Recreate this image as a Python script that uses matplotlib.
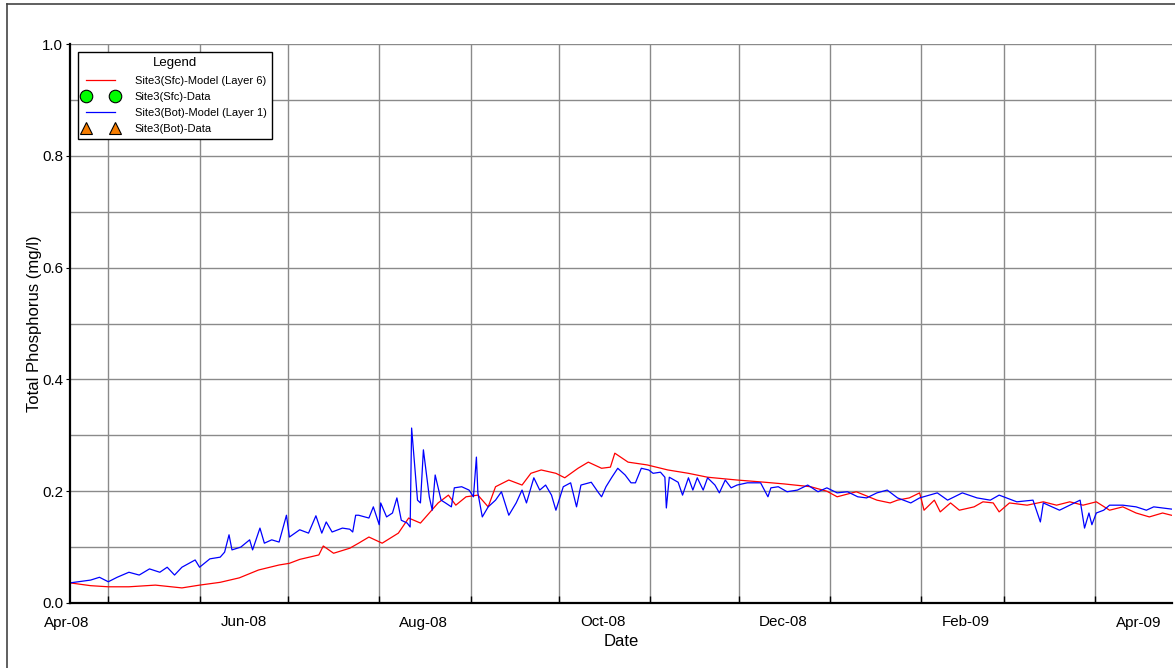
import datetime as dt
import matplotlib
matplotlib.use("Agg")
import matplotlib.pyplot as plt
import matplotlib.dates as mdates
from matplotlib.lines import Line2D

plt.rcParams['font.family'] = ['Liberation Sans', 'DejaVu Sans']

# days counted from 2008-04-03
base = dt.datetime(2008, 4, 3)

sfc_days = [15, 22, 28, 35, 44, 53, 59, 66, 72.5, 79, 86, 89.5, 93, 99.5, 101, 104.5,
            110, 113, 116.5, 121, 126.5, 130, 134, 137, 140, 143.5, 146, 149.5, 153.5,
            157, 159.5, 164, 168.5, 171.5, 175, 180, 183, 187.5, 191, 195.5, 198.5, 200,
            204.5, 211, 218, 225, 231.5, 241.5, 251, 257.5, 266.5, 272, 275.5, 282, 289,
            293.5, 296, 300, 303.5, 305, 308.5, 310.5, 314, 317, 322, 325, 328.5, 330.5,
            334, 340, 345.5, 350, 354.5, 359, 363.5, 368, 372.5, 377, 381.5, 386, 389]
sfc_tp = [0.036, 0.031, 0.029, 0.029, 0.032, 0.027, 0.032, 0.037, 0.045, 0.059, 0.068,
          0.071, 0.078, 0.086, 0.102, 0.089, 0.098, 0.107, 0.118, 0.107, 0.125, 0.152,
          0.143, 0.161, 0.179, 0.193, 0.175, 0.190, 0.193, 0.172, 0.208, 0.220, 0.211,
          0.232, 0.238, 0.232, 0.224, 0.241, 0.252, 0.241, 0.243, 0.268, 0.252, 0.247,
          0.238, 0.232, 0.225, 0.220, 0.216, 0.213, 0.208, 0.200, 0.190, 0.199, 0.184,
          0.179, 0.184, 0.188, 0.197, 0.166, 0.184, 0.163, 0.179, 0.166, 0.172, 0.181,
          0.179, 0.163, 0.179, 0.175, 0.181, 0.175, 0.181, 0.175, 0.181, 0.166, 0.172,
          0.161, 0.154, 0.161, 0.157]

bot_days = [15, 22, 25, 28, 31, 35, 38.5, 42, 45.5, 48, 50.5, 53, 57.5, 59, 62.5, 66,
            67.5, 69, 70, 73, 76, 77, 79.5, 81, 83.5, 86, 88.5, 89.5, 93, 96, 98.5, 100.5,
            102, 104, 107.5, 110, 111, 112, 113, 116.5, 118, 120, 120.5, 122.5, 124.5,
            126, 127.5, 129.5, 130.5, 131, 133, 134, 135, 137, 138, 139, 141, 142.5,
            144.5, 145.5, 148, 150.5, 152, 153, 153.5, 155, 157, 159.5, 161.5, 164, 166.5,
            168.5, 170, 172.5, 174.5, 176.5, 178.5, 180, 182.5, 185, 187, 188.5, 192,
            194.5, 195.5, 197, 199, 201, 203.5, 205.5, 207, 209, 211.5, 213, 215.5, 217,
            217.5, 218.5, 221.5, 223, 225, 226.5, 228, 230, 231.5, 234, 235.5, 237.5,
            239.5, 241.5, 245, 249.5, 252, 253, 255.5, 258.5, 262, 265.5, 269, 272, 275.5,
            279, 282.5, 285.5, 289, 292.5, 296, 300.5, 303.5, 309.5, 313, 318, 323,
            327.5, 330.5, 336.5, 342, 344.5, 345.5, 351, 354.5, 358, 359.5, 361, 362,
            363.5, 366, 368, 372.5, 377, 380.5, 383, 386, 389]
bot_tp = [0.036, 0.041, 0.046, 0.038, 0.046, 0.055, 0.050, 0.061, 0.055, 0.064, 0.050,
          0.064, 0.077, 0.064, 0.079, 0.082, 0.091, 0.122, 0.095, 0.100, 0.113, 0.095,
          0.134, 0.107, 0.113, 0.109, 0.157, 0.118, 0.131, 0.125, 0.156, 0.125, 0.145,
          0.127, 0.134, 0.132, 0.127, 0.157, 0.157, 0.152, 0.172, 0.140, 0.179, 0.154,
          0.161, 0.188, 0.148, 0.143, 0.136, 0.313, 0.184, 0.179, 0.274, 0.190, 0.166,
          0.229, 0.184, 0.179, 0.172, 0.206, 0.208, 0.202, 0.190, 0.261, 0.197, 0.154,
          0.172, 0.184, 0.199, 0.157, 0.179, 0.202, 0.179, 0.224, 0.202, 0.211, 0.193,
          0.166, 0.208, 0.215, 0.172, 0.211, 0.216, 0.197, 0.190, 0.208, 0.225, 0.241,
          0.229, 0.215, 0.215, 0.241, 0.238, 0.232, 0.234, 0.225, 0.170, 0.225, 0.216,
          0.193, 0.224, 0.202, 0.224, 0.202, 0.224, 0.211, 0.197, 0.220, 0.206, 0.211,
          0.215, 0.215, 0.190, 0.206, 0.208, 0.199, 0.202, 0.211, 0.199, 0.206, 0.197,
          0.199, 0.190, 0.188, 0.197, 0.202, 0.188, 0.179, 0.188, 0.197, 0.184, 0.197,
          0.188, 0.184, 0.193, 0.181, 0.184, 0.145, 0.179, 0.166, 0.175, 0.184, 0.134,
          0.161, 0.140, 0.161, 0.166, 0.175, 0.175, 0.172, 0.166, 0.172, 0.170, 0.168]

# no observations in this period
sfc_obs_dates, sfc_obs = [], []
bot_obs_dates, bot_obs = [], []

sfc_x = [base + dt.timedelta(days=d) for d in sfc_days]
bot_x = [base + dt.timedelta(days=d) for d in bot_days]

fig = plt.figure(figsize=(11.75, 6.68), dpi=100)
ax = fig.add_axes([70 / 1175, 65 / 668, 1102 / 1175, 559 / 668])

ax.plot(sfc_x, sfc_tp, color='#ff0000', lw=0.9, label='Site3(Sfc)-Model (Layer 6)')
ax.plot(sfc_obs_dates, sfc_obs, ls='none', marker='o', ms=9, mfc='#00ff00', mec='black',
        mew=0.8, label='Site3(Sfc)-Data')
ax.plot(bot_x, bot_tp, color='#0000ff', lw=0.9, label='Site3(Bot)-Model (Layer 1)')
ax.plot(bot_obs_dates, bot_obs, ls='none', marker='^', ms=9, mfc='#f57c00', mec='black',
        mew=0.8, label='Site3(Bot)-Data')

start = dt.datetime(2008, 4, 18)
ax.set_xlim(start, start + dt.timedelta(days=374.2))
ax.set_ylim(0, 1.0)

# month boundaries: tick marks and grid; labels sit mid-month every other month
ax.xaxis.set_minor_locator(mdates.MonthLocator())
ax.xaxis.set_major_locator(mdates.MonthLocator(bymonth=(2, 4, 6, 8, 10, 12), bymonthday=16))
ax.xaxis.set_major_formatter(mdates.DateFormatter('%b-%y'))
ax.tick_params(axis='x', which='major', length=0, pad=9, labelsize=10.9)
ax.tick_params(axis='x', which='minor', direction='in', length=5, width=1, color='black')
ax.annotate('Apr-08', xy=(mdates.date2num(dt.datetime(2008, 4, 17)), 0),
            xycoords=ax.get_xaxis_transform(), xytext=(0, -9), textcoords='offset points',
            ha='center', va='top', fontsize=10.9, annotation_clip=False)

ax.set_yticks([0, 0.2, 0.4, 0.6, 0.8, 1.0])
ax.set_yticks([0.1, 0.3, 0.5, 0.7, 0.9], minor=True)
ax.yaxis.set_major_formatter(plt.FormatStrFormatter('%.1f'))
ax.tick_params(axis='y', which='major', direction='out', length=3, pad=2, labelsize=10.9)
ax.tick_params(axis='y', which='minor', length=0)

ax.grid(True, which='minor', axis='x', color='#8a8a8a', lw=1)
ax.grid(True, which='both', axis='y', color='#8a8a8a', lw=1)
ax.set_axisbelow(True)

for s in ['top', 'right']:
    ax.spines[s].set_visible(False)
for s in ['left', 'bottom']:
    ax.spines[s].set_linewidth(1.6)
    ax.spines[s].set_color('black')

ax.set_xlabel('Date', fontsize=12, labelpad=3)
ax.set_ylabel('Total Phosphorus (mg/l)', fontsize=12, labelpad=0)

leg = ax.legend(loc='upper left', bbox_to_anchor=(0.0073, 0.986), title='Legend',
                fontsize=8, title_fontsize=9.5, numpoints=2, handlelength=3.2,
                handletextpad=1.45, labelspacing=0.55, borderpad=0.45, fancybox=False,
                framealpha=1, edgecolor='black', borderaxespad=0)
leg.get_frame().set_linewidth(1)
leg._legend_box.sep = 5

# outer frame of the original graphic
fig.add_artist(Line2D([7 / 1175, 7 / 1175], [0, 664 / 668], color='#444444', lw=1.2))
fig.add_artist(Line2D([7 / 1175, 1], [664 / 668, 664 / 668], color='#444444', lw=1.2))

fig.savefig('out.png', dpi=100)
